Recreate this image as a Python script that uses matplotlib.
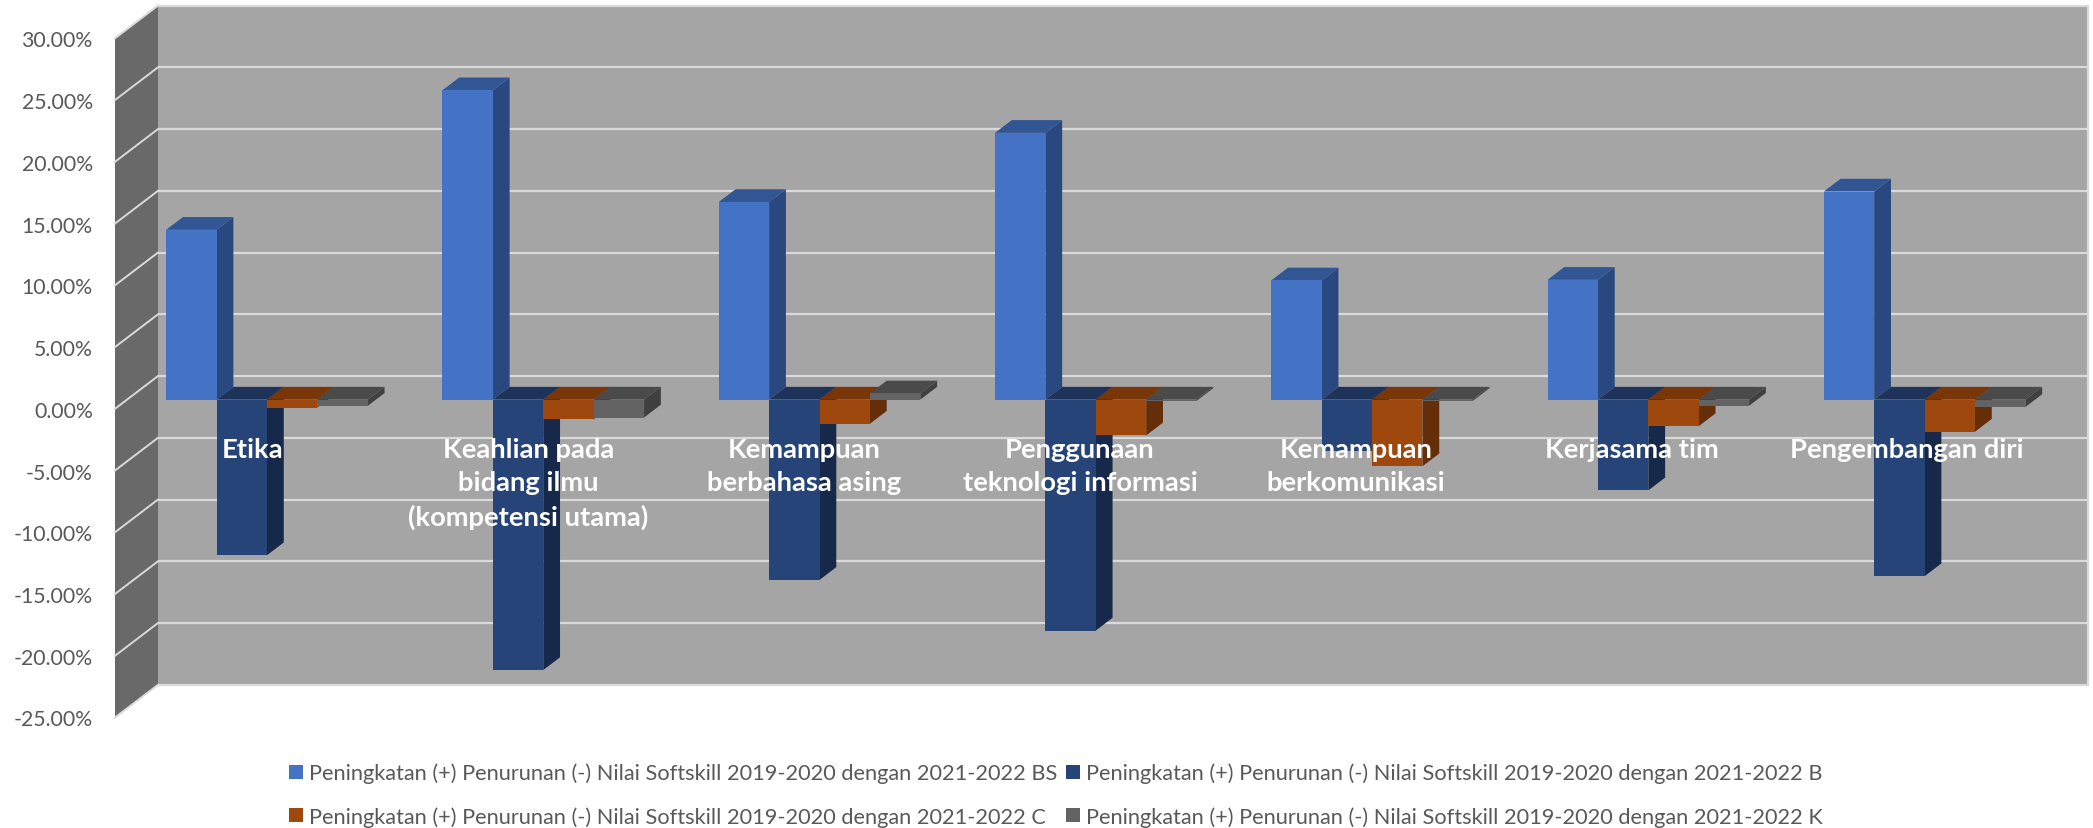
#!/usr/bin/env python3
"""Softskill change chart, 3D-look clustered columns drawn on a flat axes."""

import numpy as np
import matplotlib
matplotlib.use("Agg")
import matplotlib.pyplot as plt
from matplotlib.patches import Polygon
from matplotlib.ticker import FuncFormatter

plt.rcParams['font.family'] = ['Lato', 'DejaVu Sans']

categories = ['Etika', 'Keahlian pada\nbidang ilmu\n(kompetensi utama)',
              'Kemampuan\nberbahasa asing', 'Penggunaan\nteknologi informasi',
              'Kemampuan\nberkomunikasi', 'Kerjasama tim', 'Pengembangan diri']
prefix = 'Peningkatan (+) Penurunan (-) Nilai Softskill 2019-2020 dengan 2021-2022 '
series_names = ['BS', 'B', 'C', 'K']
bs_values = [13.75, 25.05, 16.0, 21.6, 9.65, 9.7, 16.85]
b_values = [-12.6, -21.9, -14.6, -18.7, -4.2, -7.35, -14.3]
c_values = [-0.65, -1.6, -1.95, -2.9, -5.4, -2.15, -2.6]
k_values = [-0.5, -1.45, 0.5, -0.1, -0.1, -0.5, -0.6]
y_ticks = [30, 25, 20, 15, 10, 5, 0, -5, -10, -15, -20, -25]

# front, top, side colours per series
front_colors = ['#4472C4', '#264478', '#9E480E', '#636363']
top_colors = ['#325594', '#1D3359', '#783609', '#4A4A4A']
side_colors = ['#2A4880', '#17294A', '#662E08', '#404040']

WALL = '#A5A5A5'
SIDE_WALL = '#696969'
GRID = '#DADADA'

# how far one unit of depth shifts things on screen, in data units
DEPTH_X = 0.156
DEPTH_Y = 2.65
BAR_Z0 = 0.28
BAR_Z1 = 0.67
BAR_W = 0.1828
GAP = 0.142
GROUP_STEP = 1.002  # columns sit a touch wider apart than the labels

W, H = 2093, 829
fig = plt.figure(figsize=(W / 100, H / 100), dpi=100, facecolor='white')
ax = fig.add_axes([115 / W, 1 - 718.5 / H, 1930 / W, 679.2 / H])
ax.set_xlim(0, len(categories))
ax.set_ylim(-25, 30)
for s in ax.spines.values():
    s.set_visible(False)


def add_poly(pts, color, z):
    ax.add_patch(Polygon(pts, closed=True, facecolor=color, edgecolor='none',
                         clip_on=False, zorder=z))


# walls
n = len(categories)
add_poly([(DEPTH_X, -25 + DEPTH_Y), (n + DEPTH_X, -25 + DEPTH_Y),
          (n + DEPTH_X, 30 + DEPTH_Y), (DEPTH_X, 30 + DEPTH_Y)], WALL, 0.1)
add_poly([(0, -25), (DEPTH_X, -25 + DEPTH_Y), (DEPTH_X, 30 + DEPTH_Y), (0, 30)], SIDE_WALL, 0.1)

for v in y_ticks:
    ax.plot([DEPTH_X, n + DEPTH_X], [v + DEPTH_Y, v + DEPTH_Y], color=GRID, lw=1.6,
            clip_on=False, zorder=0.2, solid_capstyle='butt')
    ax.plot([0, DEPTH_X], [v, v + DEPTH_Y], color=GRID, lw=1.4, clip_on=False, zorder=0.2)
ax.plot([n + DEPTH_X, n + DEPTH_X], [-25 + DEPTH_Y, 30 + DEPTH_Y], color=GRID, lw=1.6,
        clip_on=False, zorder=0.2)

# columns, left to right so the next one covers the side of the previous
all_values = [bs_values, b_values, c_values, k_values]
xs = np.arange(n)
handles = []
dx0, dy0 = DEPTH_X * BAR_Z0, DEPTH_Y * BAR_Z0
dx1, dy1 = DEPTH_X * (BAR_Z1 - BAR_Z0), DEPTH_Y * (BAR_Z1 - BAR_Z0)
for cat in xs:
    for j, vals in enumerate(all_values):
        v = vals[cat]
        left = cat * GROUP_STEP + dx0 + GAP + j * BAR_W
        right = left + BAR_W
        z = 1 + (cat * 4 + j) * 0.01
        top = max(v, 0) + dy0
        low = min(v, 0) + dy0
        add_poly([(right, low), (right + dx1, low + dy1), (right + dx1, top + dy1), (right, top)],
                 side_colors[j], z)
        add_poly([(left, top), (right, top), (right + dx1, top + dy1), (left + dx1, top + dy1)],
                 top_colors[j], z)
        ax.bar(left, v, width=BAR_W, bottom=dy0, align='edge', color=front_colors[j],
               zorder=z + 0.001, clip_on=False)

# legend, keeps the row order BS B / C K
order = [0, 2, 1, 3]
for j in order:
    handles.append(plt.Rectangle((0, 0), 1, 1, facecolor=front_colors[j],
                                 label=prefix + series_names[j]))
fig.legend(handles=handles, ncol=2, frameon=False, loc='lower left',
           bbox_to_anchor=(288 / W, 0), fontsize=15.7, labelcolor='#595959',
           handlelength=0.64, handleheight=0.64, handletextpad=0.28, columnspacing=0.37,
           labelspacing=1.05, borderpad=0.05, borderaxespad=0)

# axes text
ax.set_axisbelow(False)
ax.yaxis.set_major_formatter(FuncFormatter(lambda v, p: f'{v:.2f}%'))
ax.set_yticks(y_ticks)
ax.tick_params(axis='y', length=0, pad=16, labelsize=15.3, labelcolor='#595959')
ax.spines['bottom'].set_position(('data', 0))
ax.set_xticks(xs + 0.5, categories, fontweight='bold', linespacing=1.46)
ax.tick_params(axis='x', length=0, pad=20.5, labelsize=19.7, labelcolor='white')

fig.savefig('out.png', dpi=100, facecolor='white')
plt.close(fig)
